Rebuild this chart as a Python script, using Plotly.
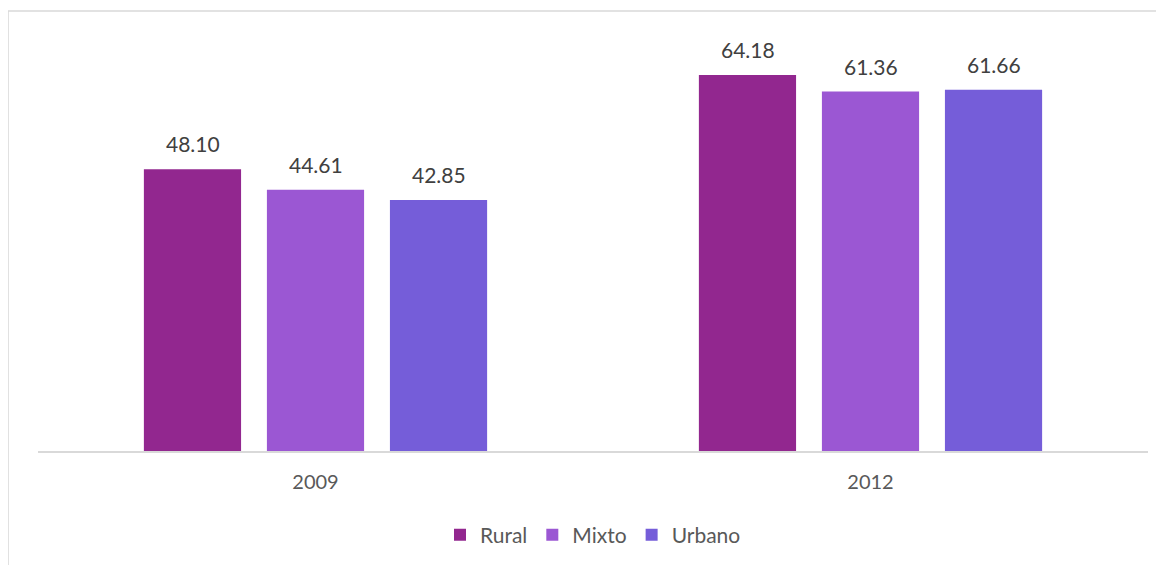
import plotly.graph_objects as go

years = ["2009", "2012"]
series_names = ["Rural", "Mixto", "Urbano"]
rural = [48.10, 64.18]
mixto = [44.61, 61.36]
urbano = [42.85, 61.66]
colors = ["#92278F", "#9B57D3", "#755DD9"]

values = [rural, mixto, urbano]
FONT = "Lato, Open Sans, sans-serif"

fig = go.Figure()
for name, vals, col in zip(series_names, values, colors):
    fig.add_trace(go.Bar(x=years, y=vals, name=name, marker=dict(color=col, line=dict(width=0))))

slot = 123
annotations = []
for i, vals in enumerate(values):
    for j, v in enumerate(vals):
        annotations.append(dict(
            x=j, y=v, xref="x", yref="y", text=f"{v:.2f}", showarrow=False,
            xshift=(i - 1) * slot, yanchor="bottom", yshift=11,
            font=dict(family=FONT, size=21, color="#404040"),
        ))

fig.update_layout(
    width=1156, height=557,
    margin=dict(l=30, r=16, t=33, b=114, autoexpand=False),
    paper_bgcolor="white", plot_bgcolor="white",
    barmode="group", bargap=0.335, bargroupgap=0.21,
    showlegend=True,
    legend=dict(orientation="h", x=0.5, xanchor="center", y=-0.205, yanchor="middle",
                font=dict(family=FONT, size=21, color="#595959"), itemwidth=30,
                traceorder="normal"),
    xaxis=dict(type="category", range=[-0.5, 1.5], showline=True, linecolor="#D9D9D9", linewidth=1.5,
               showgrid=False, automargin=False,
               tickfont=dict(family=FONT, size=20, color="#595959"),
               ticks="", ticklabelstandoff=12, fixedrange=True),
    yaxis=dict(range=[0, 70], visible=False, showgrid=False, fixedrange=True, automargin=False),
    annotations=annotations,
    shapes=[dict(type="rect", xref="paper", yref="paper",
                 x0=-0.027, x1=1.05, y0=-0.5, y1=1.073,
                 line=dict(color="#D9D9D9", width=1.5), fillcolor="rgba(0,0,0,0)", layer="below")],
)

fig.write_html("out.html")
